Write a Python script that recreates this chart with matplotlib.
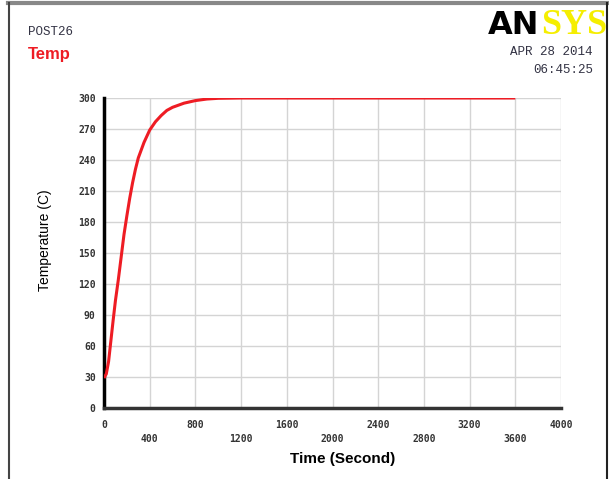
import matplotlib
matplotlib.use('Agg')
import matplotlib.pyplot as plt

# Data (time in s, temperature in C)
TIME = [0, 20, 40, 60, 80, 100, 125, 150, 175, 200, 225, 250, 275, 300, 350, 400, 450,
        500, 550, 600, 700, 800, 900, 1000, 1200, 1600, 2400, 3600]
TEMP = [29, 33, 45, 65, 85, 104, 124, 146, 168, 186, 203, 218, 231, 242, 257, 269, 277,
        283, 288, 291, 295, 297.5, 299, 299.7, 300, 300, 300, 300]
X_TICKS = list(range(0, 4001, 400))
Y_TICKS = list(range(0, 301, 30))

TITLE = 'POST26'
SERIES_NAME = 'Temp'
DATE_TEXT = 'APR 28 2014'
TIME_TEXT = '06:45:25'

fig = plt.figure(figsize=(6.09, 4.79), dpi=100)
ax = fig.add_axes([0.1708, 0.1482, 0.7504, 0.6472])

ax.plot(TIME, TEMP, color='#ee1c24', linewidth=2.2, solid_capstyle='butt',
        solid_joinstyle='round', zorder=3)

ax.set_xlim(0, 4000)
ax.set_ylim(0, 300)
ax.set_xticks(X_TICKS)
ax.set_yticks(Y_TICKS)
ax.set_xticklabels([])
ax.set_yticklabels([str(v) for v in Y_TICKS], fontsize=7, family='DejaVu Sans Mono',
                   color='#333333', fontweight='bold')
ax.tick_params(axis='both', length=0, pad=6)
for i, v in enumerate(X_TICKS):
    # staggered x tick labels like the ANSYS plot
    ax.text(v, -0.04 if i % 2 == 0 else -0.085, str(v), transform=ax.get_xaxis_transform(),
            ha='center', va='top', fontsize=7, family='DejaVu Sans Mono', color='#333333',
            fontweight='bold')

ax.grid(True, color='#d4d4d4', linewidth=1.0)
ax.set_axisbelow(True)
for side in ['top', 'right']:
    ax.spines[side].set_visible(False)
ax.spines['left'].set_linewidth(2.5)
ax.spines['left'].set_color('black')
ax.spines['bottom'].set_linewidth(2.5)
ax.spines['bottom'].set_color('#333333')

fig.text(343 / 609, 1 - 459 / 479, 'Time (Second)', ha='center', va='center',
         fontsize=11, fontweight='bold', family='Liberation Sans')
fig.text(45 / 609, 1 - 240 / 479, 'Temperature (C)', ha='center', va='center',
         rotation=90, fontsize=10, family='Liberation Sans')

fig.text(28 / 609, 1 - 32 / 479, TITLE, ha='left', va='center', fontsize=9,
         family='Liberation Mono', color='#333344')
fig.text(28 / 609, 1 - 55 / 479, SERIES_NAME, ha='left', va='center', fontsize=12,
         family='Liberation Sans', fontweight='bold', color='#ee1c24')
fig.text(593 / 609, 1 - 52 / 479, DATE_TEXT, ha='right', va='center', fontsize=9,
         family='Liberation Mono', color='#333344')
fig.text(593 / 609, 1 - 70 / 479, TIME_TEXT, ha='right', va='center', fontsize=9,
         family='Liberation Mono', color='#333344')
fig.text(488 / 609, 1 - 34 / 479, 'AN', ha='left', va='baseline', fontsize=23,
         family='DejaVu Sans', fontweight='heavy', color='black')
fig.text(541 / 609, 1 - 34 / 479, 'SYS', ha='left', va='baseline', fontsize=26,
         family='Liberation Serif', fontweight='bold', color='#f5ee00')

# outer frame lines (top gray, left dark, right black)
fig.add_artist(plt.Line2D([8 / 609, 1], [1 - 3 / 479, 1 - 3 / 479], transform=fig.transFigure,
                          color='#888888', linewidth=3))
fig.add_artist(plt.Line2D([9 / 609, 9 / 609], [0, 1 - 3 / 479], transform=fig.transFigure,
                          color='#444444', linewidth=1.5))
fig.add_artist(plt.Line2D([607 / 609, 607 / 609], [0, 1 - 3 / 479], transform=fig.transFigure,
                          color='#222222', linewidth=1.5))

fig.savefig('out.png', dpi=100)
